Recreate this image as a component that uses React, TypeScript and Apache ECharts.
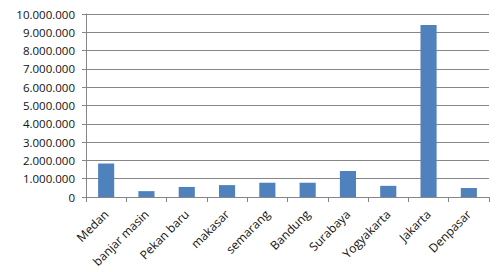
import React, { useEffect, useRef } from "react";
import * as echarts from "echarts";

const categories = ["Medan", "banjar masin", "Pekan baru", "makasar", "semarang", "Bandung", "Surabaya", "Yogyakarta", "Jakarta", "Denpasar"];
const values = [1830000, 320000, 550000, 650000, 780000, 780000, 1420000, 610000, 9400000, 490000];

const fmt = (v: number) => String(v).replace(/\B(?=(\d{3})+(?!\d))/g, ".");

export default function App() {
  const ref = useRef<HTMLDivElement>(null);
  useEffect(() => {
    if (!ref.current) return;
    const chart = echarts.init(ref.current, undefined, { renderer: "svg" });
    const font = "'Open Sans', sans-serif";
    chart.setOption({
      animation: false,
      backgroundColor: "#ffffff",
      grid: { left: 86, right: 12, top: 14, bottom: 75 },
      xAxis: {
        type: "category",
        data: categories,
        boundaryGap: true,
        axisLine: { show: true, lineStyle: { color: "#868686", width: 1 } },
        axisTick: { show: true, alignWithLabel: false, length: 5, lineStyle: { color: "#868686" } },
        axisLabel: { rotate: 45, interval: 0, color: "#111", fontFamily: font, fontSize: 12, margin: 15 },
      },
      yAxis: {
        type: "value",
        min: 0,
        max: 10000000,
        interval: 1000000,
        axisLine: { show: true, lineStyle: { color: "#868686", width: 1 } },
        axisTick: { show: true, length: 4, lineStyle: { color: "#868686" } },
        splitLine: { show: true, lineStyle: { color: "#868686", width: 1 } },
        axisLabel: { color: "#111", fontFamily: font, fontSize: 11.5, margin: 11, formatter: (v: number) => fmt(v) },
      },
      series: [
        {
          type: "bar",
          data: values,
          barWidth: "40%",
          itemStyle: { color: "#4F81BD" },
        },
      ],
    });
    return () => chart.dispose();
  }, []);
  return <div ref={ref} style={{ width: 501, height: 272, position: "absolute", left: 0, top: 0 }} />;
}
